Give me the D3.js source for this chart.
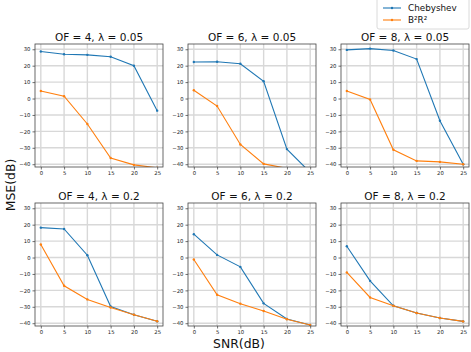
<!DOCTYPE html>
<html>
<head>
<meta charset="utf-8">
<script src="https://cdn.jsdelivr.net/npm/d3@7"></script>
<style>
  body { margin: 0; background: #fff; }
  svg { display: block; font-family: "DejaVu Sans", sans-serif; }
</style>
</head>
<body>
<svg id="chart" width="471" height="352"></svg>
<script>
// SNR values on the x axis
var snr = [0, 5, 10, 15, 20, 25];
var xTicks = [0, 5, 10, 15, 20, 25];
var yTicks = [30, 20, 10, 0, -10, -20, -30, -40];

var titles = [
    'OF = 4, \u03bb = 0.05', 'OF = 6, \u03bb = 0.05', 'OF = 8, \u03bb = 0.05',
    'OF = 4, \u03bb = 0.2', 'OF = 6, \u03bb = 0.2', 'OF = 8, \u03bb = 0.2'
];
var seriesNames = ['Chebyshev', 'B\u00b2R\u00b2'];

// MSE(dB)
var chebyshev = [
    [28.6, 27.0, 26.6, 25.4, 20.0, -7.4],
    [22.2, 22.4, 21.2, 10.5, -30.8, -45.0],
    [29.6, 30.4, 29.2, 24.0, -13.5, -40.0],
    [18.2, 17.4, 1.4, -29.8, -34.8, -38.8],
    [14.2, 1.6, -5.7, -27.9, -37.4, -41.1],
    [6.9, -14.2, -29.4, -33.8, -36.8, -38.9]
];
var b2r2 = [
    [4.6, 1.4, -15.5, -36.2, -40.4, -42.2],
    [5.0, -4.6, -28.0, -39.8, -42.5, -44.0],
    [4.6, -0.6, -31.2, -38.0, -38.6, -40.0],
    [7.9, -17.2, -25.5, -30.4, -34.8, -38.8],
    [-1.2, -22.7, -28.1, -32.6, -37.6, -41.1],
    [-9.1, -24.3, -29.4, -33.8, -36.8, -38.9]
];
var colors = ['#1f77b4', '#ff7f0e'];

var svg = d3.select('#chart');
var panelW = 128, panelH = 123;
var lefts = [35, 188, 341];
var tops = [44, 203];

var x = d3.scaleLinear().domain([-1.25, 26.25]).range([0, panelW]);
var y = d3.scaleLinear().domain([-41.7, 33.2]).range([panelH, 0]);

var line = d3.line()
    .x(function (d) { return x(d.x); })
    .y(function (d) { return y(d.y); });

function fmt(v) { return v < 0 ? '\u2212' + Math.abs(v) : String(v); }

titles.forEach(function (title, i) {
    var col = i % 3, row = Math.floor(i / 3);
    var g = svg.append('g')
        .attr('transform', 'translate(' + lefts[col] + ',' + tops[row] + ')');

    g.append('clipPath').attr('id', 'clip' + i)
        .append('rect').attr('width', panelW).attr('height', panelH);

    // grid
    g.selectAll('.vgrid').data(xTicks).enter().append('line')
        .attr('x1', function (d) { return x(d); })
        .attr('x2', function (d) { return x(d); })
        .attr('y1', 0).attr('y2', panelH)
        .attr('stroke', '#d8d8d8').attr('stroke-width', 1.4);
    g.selectAll('.hgrid').data(yTicks).enter().append('line')
        .attr('y1', function (d) { return y(d); })
        .attr('y2', function (d) { return y(d); })
        .attr('x1', 0).attr('x2', panelW)
        .attr('stroke', '#d8d8d8').attr('stroke-width', 1.4);

    // axes
    var xAxis = d3.axisBottom(x).tickValues(xTicks).tickSize(2.5).tickPadding(2);
    var yAxis = d3.axisLeft(y).tickValues(yTicks).tickSize(2.5).tickPadding(2).tickFormat(fmt);
    var gx = g.append('g').attr('transform', 'translate(0,' + panelH + ')').call(xAxis);
    var gy = g.append('g').call(yAxis);
    [gx, gy].forEach(function (a) {
        a.select('.domain').remove();
        a.selectAll('line').attr('stroke', '#333').attr('stroke-width', 0.7);
        a.selectAll('text').attr('font-size', 5.3).attr('fill', '#222')
            .attr('font-family', '"DejaVu Sans", sans-serif');
    });

    var plot = g.append('g').attr('clip-path', 'url(#clip' + i + ')');
    [chebyshev[i], b2r2[i]].forEach(function (vals, s) {
        var pts = snr.map(function (v, k) { return { x: v, y: vals[k] }; });
        plot.append('path').datum(pts)
            .attr('d', line).attr('fill', 'none')
            .attr('stroke', colors[s]).attr('stroke-width', 1.1);
        plot.selectAll('.dot' + s).data(pts).enter().append('circle')
            .attr('cx', function (d) { return x(d.x); })
            .attr('cy', function (d) { return y(d.y); })
            .attr('r', 1.2).attr('fill', colors[s]);
    });

    g.append('rect').attr('width', panelW).attr('height', panelH)
        .attr('fill', 'none').attr('stroke', '#444').attr('stroke-width', 0.8);

    g.append('text').attr('x', panelW / 2).attr('y', -3)
        .attr('text-anchor', 'middle').attr('font-size', 10.5).attr('fill', '#111')
        .text(title);
});

// legend
var lg = svg.append('g').attr('transform', 'translate(377,0)');
lg.append('rect').attr('x', 0).attr('y', -2).attr('width', 92).attr('height', 31)
    .attr('rx', 2).attr('fill', '#fff').attr('stroke', '#d0d0d0').attr('stroke-width', 0.8);
seriesNames.forEach(function (name, s) {
    var cy = 8 + s * 12;
    lg.append('line').attr('x1', 6).attr('x2', 24).attr('y1', cy).attr('y2', cy)
        .attr('stroke', colors[s]).attr('stroke-width', 1.1);
    lg.append('circle').attr('cx', 15).attr('cy', cy).attr('r', 1.2).attr('fill', colors[s]);
    lg.append('text').attr('x', 31).attr('y', cy + 3.2)
        .attr('font-size', 8.8).attr('fill', '#111').text(name);
});

// axis labels
svg.append('text').attr('x', 239).attr('y', 348)
    .attr('text-anchor', 'middle').attr('font-size', 12.4).attr('fill', '#111')
    .text('SNR(dB)');
svg.append('text').attr('transform', 'translate(15,185) rotate(-90)')
    .attr('text-anchor', 'middle').attr('font-size', 12.4).attr('fill', '#111')
    .text('MSE(dB)');
</script>
</body>
</html>
